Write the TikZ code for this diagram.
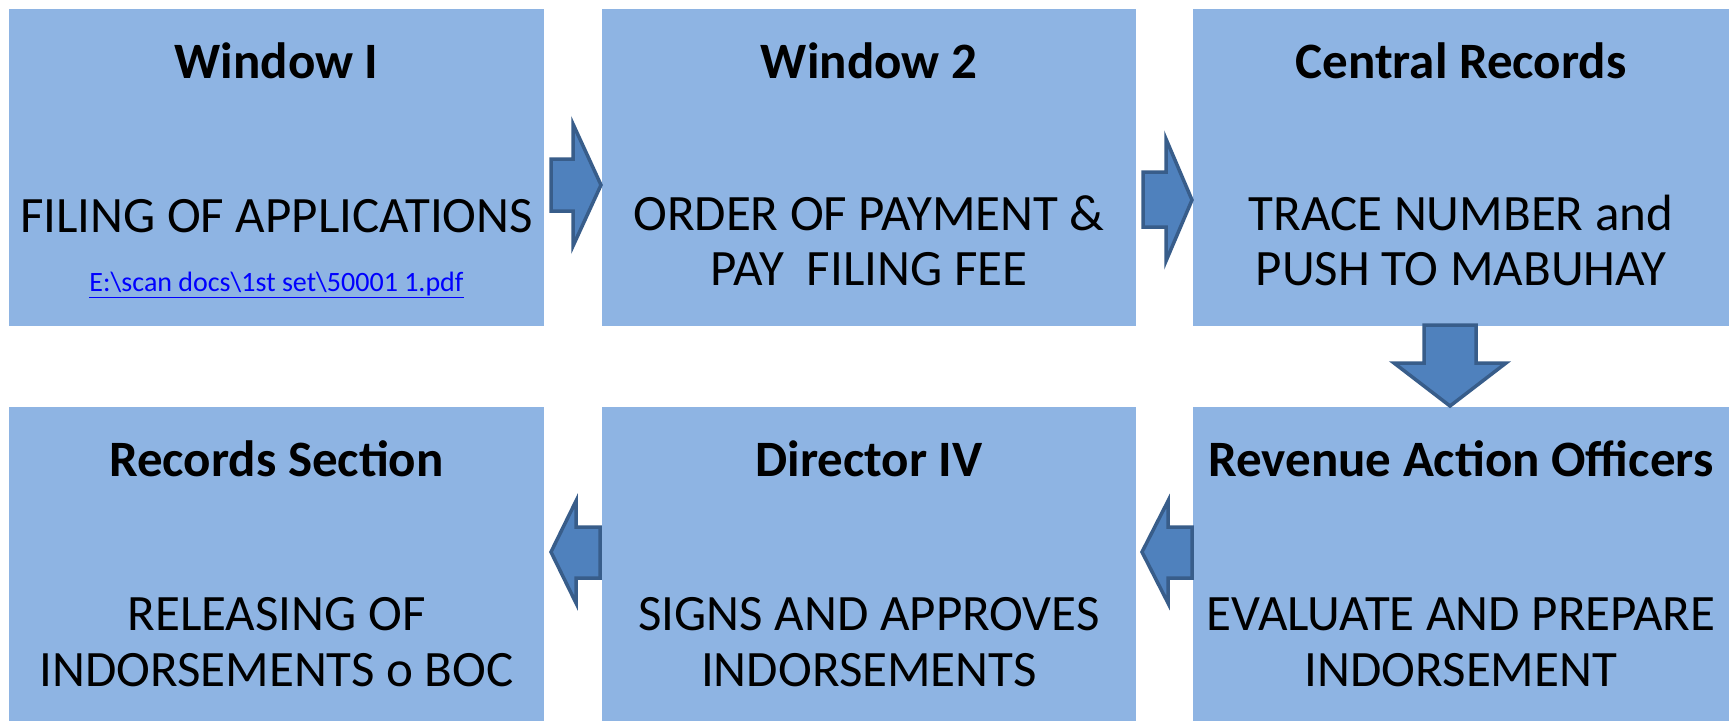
\documentclass[tikz,border=0pt]{standalone}
\usepackage{fontspec}
\setmainfont{Carlito}
\definecolor{boxfill}{HTML}{8EB4E3}
\definecolor{arrfill}{HTML}{4F81BD}
\definecolor{arrline}{HTML}{385D8A}
\definecolor{linkblue}{HTML}{0000FF}
\begin{document}
\begin{tikzpicture}[x=1pt,y=-1pt,
  stagebox/.style={fill=boxfill,draw=none,inner sep=0pt},
  ttl/.style={anchor=base,inner sep=0pt,font=\fontsize{51}{58}\selectfont\bfseries},
  txt/.style={anchor=base,inner sep=0pt,font=\fontsize{51}{58}\selectfont},
  lnk/.style={anchor=base,inner sep=0pt,font=\fontsize{28}{32}\selectfont,text=linkblue},
  blockarrow/.style={fill=arrfill,draw=arrline,line width=3.5pt,line join=miter}]
\useasboundingbox (0,0) rectangle (1733,721);
\fill[white] (0,0) rectangle (1733,721);
% boxes
\node[stagebox,minimum width=535pt,minimum height=317pt] (b1) at (276.5,167.5) {};
\node[stagebox,minimum width=534pt,minimum height=317pt] (b2) at (869,167.5) {};
\node[stagebox,minimum width=536pt,minimum height=317pt] (b3) at (1461,167.5) {};
\node[stagebox,minimum width=535pt,minimum height=314pt] (b4) at (276.5,564) {};
\node[stagebox,minimum width=534pt,minimum height=314pt] (b5) at (869,564) {};
\node[stagebox,minimum width=536pt,minimum height=314pt] (b6) at (1461,564) {};
% texts top row
\node[ttl] (t1) at (276.5,78) {Window I};
\node[txt] (t1a) at (276.5,232) {FILING OF APPLICATIONS};
\node[lnk] (t1b) at (276.5,291) {\underline{E:\textbackslash scan docs\textbackslash 1st set\textbackslash 50001 1.pdf}};
\node[ttl] (t2) at (869,78) {Window 2};
\node[txt] (t2a) at (869,230) {ORDER OF PAYMENT \&};
\node[txt] (t2b) at (869,285) {PAY\ \ FILING FEE};
\node[ttl] (t3) at (1461,78) {Central Records};
\node[txt] (t3a) at (1461,230) {TRACE NUMBER and};
\node[txt] (t3b) at (1461,285) {PUSH TO MABUHAY};
% texts bottom row
\node[ttl] (t4) at (276.5,476) {Records Section};
\node[txt] (t4a) at (276.5,630) {RELEASING OF};
\node[txt] (t4b) at (276.5,686) {INDORSEMENTS o BOC};
\node[ttl] (t5) at (869,476) {Director IV};
\node[txt] (t5a) at (869,630) {SIGNS AND APPROVES};
\node[txt] (t5b) at (869,686) {INDORSEMENTS};
\node[ttl] (t6) at (1461,476) {Revenue Action Officers};
\node[txt] (t6a) at (1461,630) {EVALUATE AND PREPARE};
\node[txt] (t6b) at (1461,686) {INDORSEMENT};
% arrows
\draw[blockarrow] (551,159) -- (573,159) -- (573,124) -- (601,185) -- (573,246) -- (573,211) -- (551,211) -- cycle;
\draw[blockarrow] (1143,172) -- (1166,172) -- (1166,139) -- (1192,200) -- (1166,261) -- (1166,227) -- (1143,227) -- cycle;
\draw[blockarrow] (1424,325) -- (1476,325) -- (1476,363) -- (1506,363) -- (1450,406) -- (1394,363) -- (1424,363) -- cycle;
\draw[blockarrow] (1192,527) -- (1168,527) -- (1168,501) -- (1142,552) -- (1168,603) -- (1168,578) -- (1192,578) -- cycle;
\draw[blockarrow] (600,527) -- (576,527) -- (576,501) -- (551,552) -- (576,603) -- (576,578) -- (600,578) -- cycle;
\end{tikzpicture}
\end{document}
